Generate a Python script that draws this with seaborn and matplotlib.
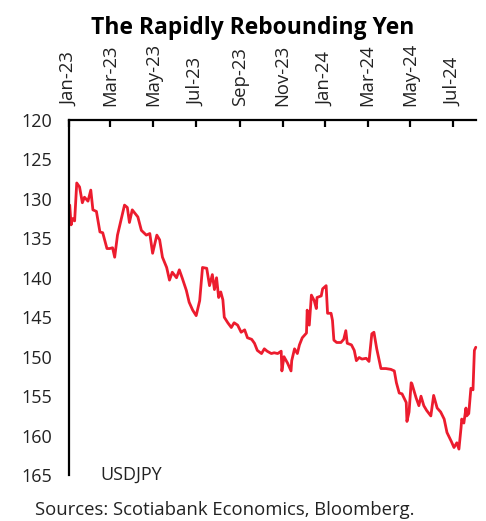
import pandas as pd
import matplotlib
matplotlib.use("Agg")
import matplotlib.pyplot as plt
import seaborn as sns
from matplotlib import dates as mdates

# USDJPY
fechas = [
    "2023-01-02", "2023-01-04", "2023-01-06", "2023-01-09", "2023-01-12", "2023-01-16",
    "2023-01-20", "2023-01-23", "2023-01-28", "2023-02-01", "2023-02-04", "2023-02-09",
    "2023-02-14", "2023-02-18", "2023-02-24", "2023-02-28", "2023-03-04", "2023-03-07",
    "2023-03-11", "2023-03-17", "2023-03-21", "2023-03-25", "2023-03-28", "2023-04-01",
    "2023-04-09", "2023-04-14", "2023-04-21", "2023-04-26", "2023-04-30", "2023-05-06",
    "2023-05-10", "2023-05-14", "2023-05-20", "2023-05-24", "2023-05-28", "2023-06-03",
    "2023-06-07", "2023-06-11", "2023-06-17", "2023-06-21", "2023-06-26", "2023-07-01",
    "2023-07-06", "2023-07-10", "2023-07-16", "2023-07-20", "2023-07-24", "2023-07-27",
    "2023-07-30", "2023-08-02", "2023-08-05", "2023-08-08", "2023-08-10", "2023-08-15",
    "2023-08-20", "2023-08-24", "2023-08-29", "2023-09-03", "2023-09-08", "2023-09-12",
    "2023-09-18", "2023-09-22", "2023-09-26", "2023-10-02", "2023-10-06", "2023-10-10",
    "2023-10-16", "2023-10-20", "2023-10-25", "2023-10-30", "2023-10-31", "2023-11-03",
    "2023-11-08", "2023-11-13", "2023-11-14", "2023-11-18", "2023-11-22", "2023-11-25",
    "2023-11-29", "2023-12-05", "2023-12-06", "2023-12-09", "2023-12-12", "2023-12-16",
    "2023-12-19", "2023-12-20", "2023-12-26", "2023-12-28", "2024-01-02", "2024-01-04",
    "2024-01-09", "2024-01-11", "2024-01-13", "2024-01-17", "2024-01-23", "2024-01-27",
    "2024-01-30", "2024-02-01", "2024-02-07", "2024-02-11", "2024-02-14", "2024-02-18",
    "2024-02-22", "2024-02-28", "2024-03-03", "2024-03-07", "2024-03-10", "2024-03-14",
    "2024-03-20", "2024-03-27", "2024-04-03", "2024-04-08", "2024-04-11", "2024-04-15",
    "2024-04-19", "2024-04-25", "2024-04-26", "2024-04-29", "2024-05-02", "2024-05-03",
    "2024-05-09", "2024-05-13", "2024-05-16", "2024-05-20", "2024-05-24", "2024-05-30",
    "2024-06-03", "2024-06-08", "2024-06-13", "2024-06-18", "2024-06-22", "2024-06-28",
    "2024-07-02", "2024-07-06", "2024-07-09", "2024-07-12", "2024-07-13", "2024-07-16",
    "2024-07-19", "2024-07-20", "2024-07-23", "2024-07-26", "2024-07-29", "2024-07-31",
    "2024-08-02",
]
usdjpy = [
    130.8, 133.3, 132.5, 132.8, 128.0, 128.5,
    130.5, 129.8, 130.3, 128.9, 131.4, 131.6,
    134.2, 134.3, 136.3, 136.3, 136.2, 137.4,
    134.6, 132.3, 130.8, 131.1, 133.0, 131.4,
    132.3, 134.0, 134.6, 134.4, 136.9, 134.6,
    135.2, 137.4, 138.7, 140.3, 139.3, 140.0,
    139.0, 140.0, 141.6, 143.1, 144.1, 144.8,
    142.9, 138.7, 138.8, 141.0, 139.6, 141.5,
    140.0, 142.5, 141.8, 142.8, 145.0, 145.7,
    146.3, 145.7, 146.0, 146.9, 146.6, 147.6,
    147.8, 148.3, 149.2, 149.6, 149.0, 149.3,
    149.6, 149.5, 149.6, 149.3, 151.8, 150.0,
    150.8, 151.8, 150.5, 149.0, 149.6, 148.5,
    147.6, 147.0, 144.1, 146.0, 142.2, 142.9,
    143.9, 142.5, 142.3, 141.4, 141.0, 144.5,
    144.5, 145.4, 147.9, 148.2, 148.2, 147.8,
    146.7, 148.3, 148.5, 149.2, 150.5, 150.1,
    150.3, 150.2, 150.6, 147.1, 146.9, 149.0,
    151.5, 151.5, 151.6, 151.8, 153.3, 154.6,
    154.7, 155.8, 158.2, 157.0, 153.3, 153.4,
    155.2, 156.2, 155.0, 156.2, 156.8, 157.5,
    154.9, 156.5, 157.0, 157.9, 159.6, 160.7,
    161.5, 160.9, 161.7, 159.0, 157.9, 158.4,
    156.5, 157.5, 157.2, 154.0, 154.2, 149.2,
    148.8,
]
y_ticks = [120, 125, 130, 135, 140, 145, 150, 155, 160, 165]

VERMELHO = "#EC1C2E"

sns.set_style("white")
plt.rcParams["font.family"] = ["Open Sans", "DejaVu Sans"]

df = pd.DataFrame({"data": pd.to_datetime(fechas), "usdjpy": usdjpy})

fig = plt.figure(figsize=(4.86, 5.21), dpi=100)
ax = fig.add_axes([0.142, 0.088, 0.837, 0.682])

sns.lineplot(data=df, x="data", y="usdjpy", color=VERMELHO, linewidth=2.0, ax=ax, clip_on=False)

ax.set_ylim(165, 120)
ax.set_yticks(y_ticks)
ax.set_xlim(pd.Timestamp("2023-01-01"), pd.Timestamp("2024-08-02"))
ax.xaxis.set_major_locator(mdates.MonthLocator(bymonth=[1, 3, 5, 7, 9, 11]))
ax.xaxis.set_major_formatter(mdates.DateFormatter("%b-%y"))
ax.xaxis.tick_top()
ax.set_xlabel("")
ax.set_ylabel("")

for lado in ["right", "bottom"]:
    ax.spines[lado].set_visible(False)
for lado in ["left", "top"]:
    ax.spines[lado].set_color("black")
    ax.spines[lado].set_linewidth(1.6)

ax.tick_params(axis="x", direction="in", length=5, width=1.6, pad=10,
               labelsize=13.3, labelrotation=90, colors="black")
ax.tick_params(axis="y", direction="in", length=5, width=1.6, pad=12,
               labelsize=13, colors="black")
for lbl in ax.get_xticklabels():
    lbl.set_color("#222222")
for lbl in ax.get_yticklabels():
    lbl.set_color("#222222")

ax.text(0.076, 0.0, "USDJPY", transform=ax.transAxes, fontsize=13,
        va="center", ha="left", color="#222222")

fig.text(0.52, 0.946, "The Rapidly Rebounding Yen", fontsize=16.5,
         fontweight="bold", ha="center", va="center", color="black")
fig.text(0.072, 0.021, "Sources: Scotiabank Economics, Bloomberg.", fontsize=13.3,
         ha="left", va="center", color="#222222")

fig.savefig("out.png", dpi=100)
plt.close(fig)
